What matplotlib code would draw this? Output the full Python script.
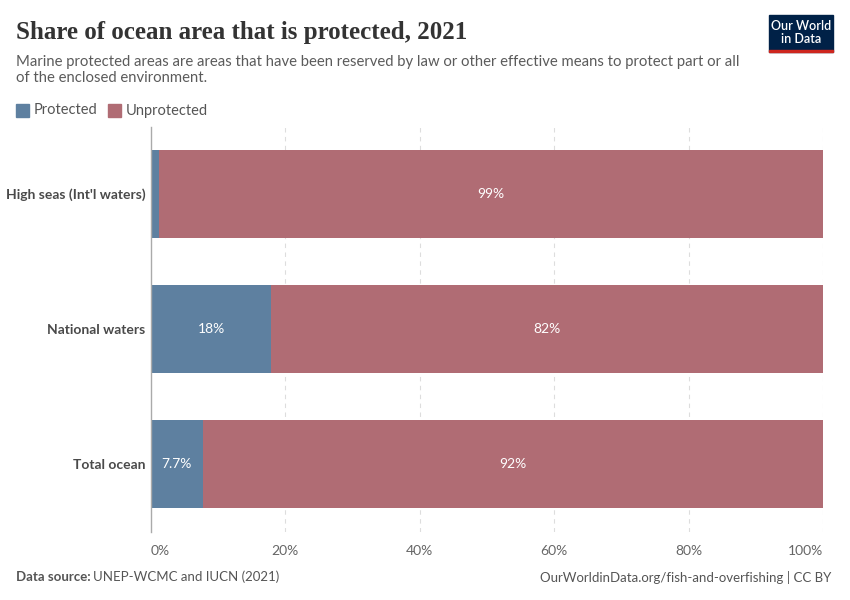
import matplotlib.pyplot as plt
from matplotlib.patches import Rectangle
import numpy as np

# data
categories = ["High seas (Int'l waters)", "National waters", "Total ocean"]
protected = [1.2, 17.9, 7.7]
unprotected = [98.8, 82.1, 92.3]
series_names = ["Protected", "Unprotected"]
x_ticks = [0, 20, 40, 60, 80, 100]

BLUE = "#5e80a0"
RED = "#b06c74"

plt.rcParams['font.family'] = ['Lato', 'DejaVu Sans']

fig = plt.figure(figsize=(8.5, 6), dpi=100)
ax = fig.add_axes([151 / 850, 1 - 531.5 / 600, 672 / 850, 405 / 600])

y = np.arange(len(categories))
bar_h = 0.652
ax.barh(y, protected, height=bar_h, color=BLUE, zorder=2)
ax.barh(y, unprotected, left=protected, height=bar_h, color=RED, zorder=2)

# labels inside bars
for i in range(len(categories)):
    if protected[i] > 4:
        ax.text(protected[i] / 2, y[i], f"{protected[i]:.2g}%", color="white",
                ha="center", va="center", fontsize=10, zorder=3)
    ax.text(protected[i] + unprotected[i] / 2, y[i], f"{unprotected[i]:.2g}%",
            color="white", ha="center", va="center", fontsize=10, zorder=3)

ax.set_xlim(0, 100)
ax.set_ylim(2.5, -0.5)
ax.set_yticks(y)
ax.set_yticklabels(categories, fontsize=10, color="#4a4a4a", fontweight="bold")
ax.set_xticks(x_ticks)
xlabels = ax.set_xticklabels([f"{t}%" for t in x_ticks], fontsize=10, color="#666666")
xlabels[0].set_ha("left")
xlabels[-1].set_ha("right")
ax.tick_params(axis="both", length=0, pad=4)
ax.tick_params(axis="x", pad=10)
for t in x_ticks[1:]:
    ax.axvline(t, color="#dddddd", linestyle=(0, (4, 4)), linewidth=0.8, zorder=1)
for s in ["top", "right", "bottom"]:
    ax.spines[s].set_visible(False)
ax.spines["left"].set_color("#aaaaaa")
ax.spines["left"].set_linewidth(1)

# title and subtitle
fig.text(16 / 850, 1 - 32 / 600, "Share of ocean area that is protected, 2021",
         fontsize=18, color="#333333", family=["Liberation Serif", "DejaVu Serif"],
         fontweight="bold", va="center", ha="left")
fig.text(16 / 850, 1 - 70 / 600,
         "Marine protected areas are areas that have been reserved by law or other effective means to protect part or all\nof the enclosed environment.",
         fontsize=10.7, color="#5b5b5b", va="center", ha="left", linespacing=1.25)

# legend
leg_colors = [BLUE, RED]
leg_x = [16, 108]
for name, c, lx in zip(series_names, leg_colors, leg_x):
    fig.patches.append(Rectangle((lx / 850, 1 - 117 / 600), 13 / 850, 13 / 600,
                                 transform=fig.transFigure, color=c))
    fig.text((lx + 18) / 850, 1 - 110.5 / 600, name, fontsize=10.5,
             color="#555555", va="center", ha="left")

# logo
fig.patches.append(Rectangle((769 / 850, 1 - 52 / 600), 64 / 850, 37 / 600,
                             transform=fig.transFigure, color="#002147"))
fig.patches.append(Rectangle((769 / 850, 1 - 52 / 600), 64 / 850, 2.5 / 600,
                             transform=fig.transFigure, color="#ce261e"))
fig.text(801 / 850, 1 - 32.5 / 600, "Our World\nin Data", fontsize=9, color="white",
         fontweight="semibold", ha="center", va="center", linespacing=1.05)

# footer
fig.text(16 / 850, 1 - 577 / 600, "Data source:", fontsize=9.5, color="#555555",
         fontweight="bold", va="center", ha="left")
fig.text(93 / 850, 1 - 577 / 600, "UNEP-WCMC and IUCN (2021)", fontsize=9.5,
         color="#555555", va="center", ha="left")
fig.text(831 / 850, 1 - 577 / 600, "OurWorldinData.org/fish-and-overfishing | CC BY",
         fontsize=9.5, color="#555555", va="center", ha="right")

fig.savefig("out.png", dpi=100)
